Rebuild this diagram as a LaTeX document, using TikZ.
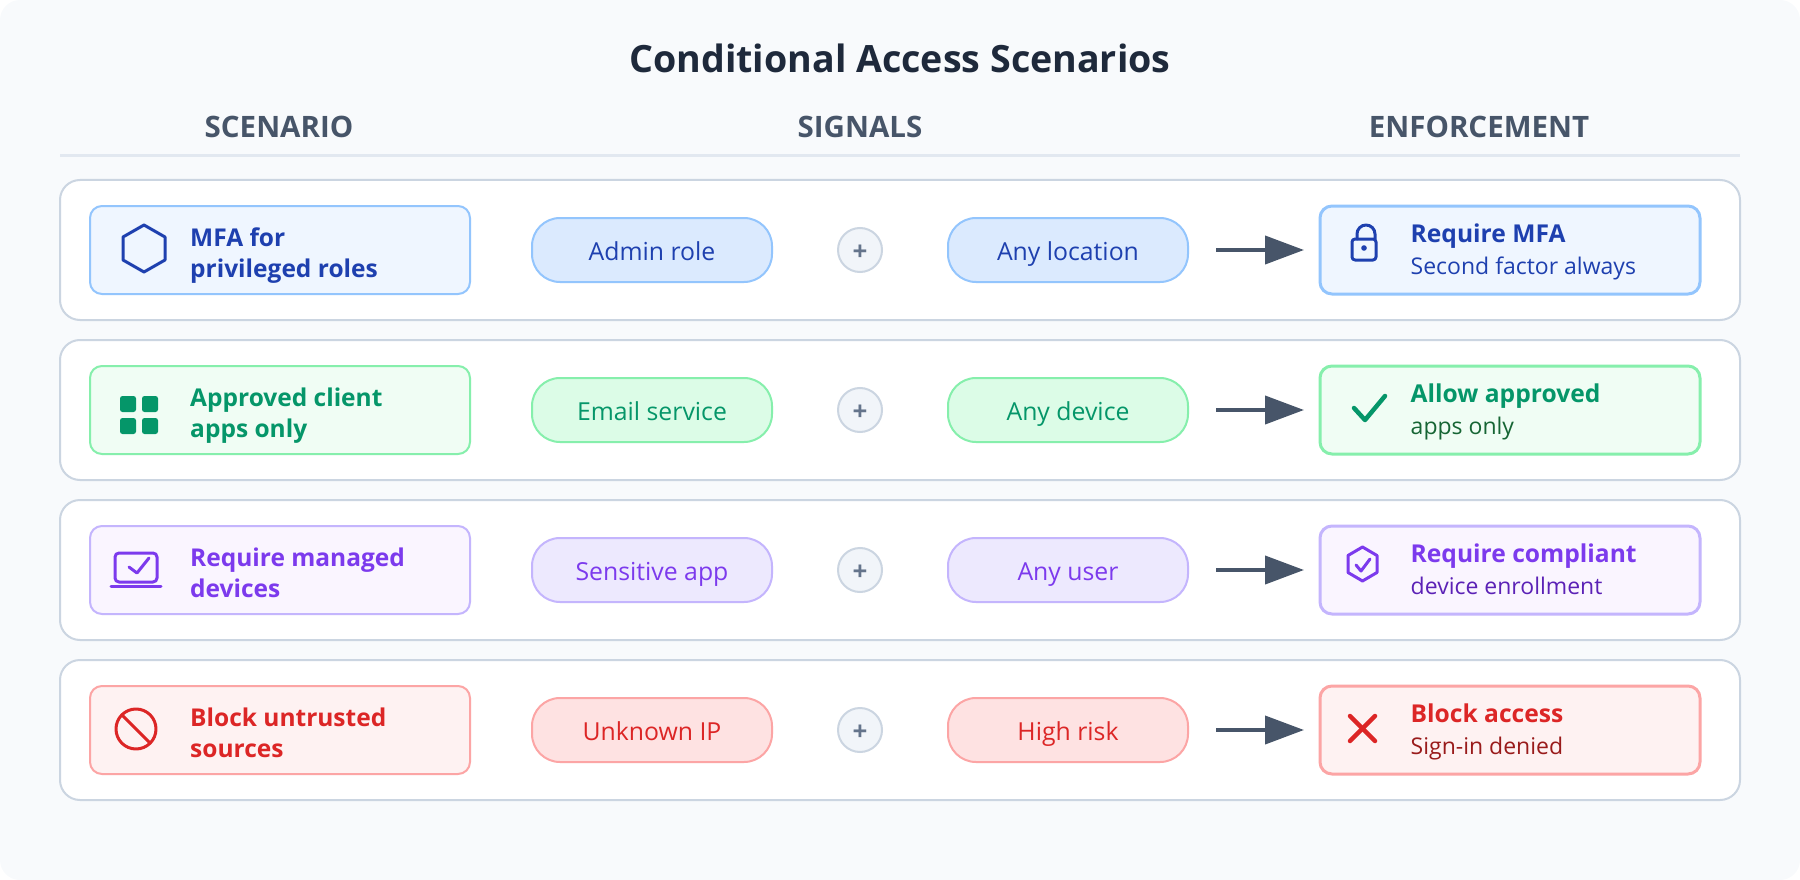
\documentclass[tikz,border=0pt]{standalone}
\usepackage{fontspec}
\setmainfont{Open Sans}
\usetikzlibrary{positioning, calc, arrows.meta}
\definecolor{caPage}{HTML}{F8FAFC}
\definecolor{caRule}{HTML}{E2E8F0}
\definecolor{caEdge}{HTML}{CBD5E1}
\definecolor{caTitle}{HTML}{1E293B}
\definecolor{caHead}{HTML}{475569}
\definecolor{caPlusFill}{HTML}{F1F5F9}
\definecolor{caPlusText}{HTML}{64748B}
\definecolor{blueText}{HTML}{1E40AF}
\definecolor{blueEdge}{HTML}{93C5FD}
\definecolor{blueBox}{HTML}{EFF6FF}
\definecolor{bluePill}{HTML}{DBEAFE}
\definecolor{greenText}{HTML}{059669}
\definecolor{greenDark}{HTML}{166534}
\definecolor{greenEdge}{HTML}{86EFAC}
\definecolor{greenBox}{HTML}{F0FDF4}
\definecolor{greenPill}{HTML}{DCFCE7}
\definecolor{purpleText}{HTML}{7C3AED}
\definecolor{purpleDark}{HTML}{5B21B6}
\definecolor{purpleEdge}{HTML}{C4B5FD}
\definecolor{purpleBox}{HTML}{FAF5FF}
\definecolor{purplePill}{HTML}{EDE9FE}
\definecolor{redText}{HTML}{DC2626}
\definecolor{redDark}{HTML}{991B1B}
\definecolor{redEdge}{HTML}{FCA5A5}
\definecolor{redBox}{HTML}{FEF2F2}
\definecolor{redPill}{HTML}{FEE2E2}
\newcommand{\enfhead}[2]{{\fontsize{24.6}{31}\selectfont\bfseries\color{#1}#2}}
\newcommand{\linestrut}{\rule[-7pt]{0pt}{24pt}}

\begin{document}
\begin{tikzpicture}[
    x=1pt, y=-1pt,
    rowcard/.style={
        rectangle,
        rounded corners=20pt,
        minimum width=1680pt,
        minimum height=140pt,
        outer sep=0pt,
        draw=caEdge,
        fill=white,
        line width=2pt
    },
    scenbox/.style={
        rectangle,
        rounded corners=12pt,
        minimum width=380pt,
        minimum height=88pt,
        outer sep=0pt,
        line width=2pt
    },
    scentext/.style={
        align=left,
        inner sep=0pt,
        yshift=-6.5pt,
        font=\fontsize{24.5}{31}\selectfont\bfseries
    },
    signal/.style={
        rectangle,
        rounded corners=28pt,
        minimum width=240pt,
        minimum height=64pt,
        outer sep=0pt,
        text height=25pt,
        text depth=5pt,
        inner ysep=0pt,
        font=\fontsize{24.8}{30}\selectfont,
        line width=2pt
    },
    plusnode/.style={
        circle,
        minimum size=44pt,
        inner sep=0pt,
        outer sep=0pt,
        text height=21pt,
        text depth=0pt,
        draw=caEdge,
        fill=caPlusFill,
        text=caPlusText,
        font=\fontsize{26}{30}\selectfont\bfseries,
        line width=2pt
    },
    enfbox/.style={
        rectangle,
        rounded corners=12pt,
        minimum width=380pt,
        minimum height=88pt,
        outer sep=0pt,
        line width=3pt
    },
    enftext/.style={
        align=left,
        inner sep=0pt,
        yshift=-2.5pt,
        font=\fontsize{23}{32}\selectfont
    },
    headtext/.style={
        font=\fontsize{29.5}{34}\selectfont\bfseries,
        text=caHead
    },
    flow/.style={
        draw=caHead,
        line width=4pt,
        -{Triangle[length=39pt,width=28pt]}
    },
    icon/.style={
        line width=3pt,
        line join=round,
        line cap=round
    }
]
\useasboundingbox (0,0) rectangle (1800,880);

% Page and heading
\fill[caPage, rounded corners=20pt] (0,0) rectangle (1800,880);
\node[font=\fontsize{37.6}{44}\selectfont\bfseries, text=caTitle] (title) at (900,58) {Conditional Access Scenarios};
\node[headtext] (hscenario) at (279,127) {SCENARIO};
\node[headtext] (hsignals) at (860,127) {SIGNALS};
\node[headtext] (henforce) at (1479,127) {ENFORCEMENT};
\coordinate (ruleL) at (60,156);
\coordinate (ruleR) at (1740,156);
\draw[caRule, line width=3pt] (ruleL) -- (ruleR);

% Row 1 - MFA
\node[rowcard] (row1) at (900,250) {};
\node[scenbox, draw=blueEdge, fill=blueBox, right=30pt of row1.west] (s1) {};
\node[scentext, text=blueText, right=100pt of s1.west] (s1t) {\linestrut MFA for\\privileged roles\linestrut};
\node[signal, draw=blueEdge, fill=bluePill, text=blueText, right=62pt of s1] (a1) {Admin role};
\node[plusnode, right=66pt of a1] (p1) {+};
\node[signal, draw=blueEdge, fill=bluePill, text=blueText, right=66pt of p1] (b1) {Any location};
\node[enfbox, draw=blueEdge, fill=blueBox, right=132pt of b1] (e1) {};
\node[enftext, text=blueText, right=90.5pt of e1.west] (e1t) {\linestrut\enfhead{blueText}{Require MFA}\\Second factor always\linestrut};
\draw[flow] ([xshift=28pt]b1.east) -- ([xshift=-16pt]e1.west);
\draw[icon, blueText] (144,225) -- (165,237) -- (165,260) -- (144,272) -- (123,260) -- (123,237) -- cycle;
\draw[icon, blueText, rounded corners=3pt] (1352,239) rectangle (1376,260);
\draw[icon, blueText] (1357,239) -- (1357,234) arc[start angle=180, end angle=360, radius=9] -- (1375,239);
\fill[blueText] (1364,248) circle[radius=2.8];

% Row 2 - approved apps
\node[rowcard] (row2) at (900,410) {};
\node[scenbox, draw=greenEdge, fill=greenBox, right=30pt of row2.west] (s2) {};
\node[scentext, text=greenText, right=100pt of s2.west] (s2t) {\linestrut Approved client\\apps only\linestrut};
\node[signal, draw=greenEdge, fill=greenPill, text=greenText, right=62pt of s2] (a2) {Email service};
\node[plusnode, right=66pt of a2] (p2) {+};
\node[signal, draw=greenEdge, fill=greenPill, text=greenText, right=66pt of p2] (b2) {Any device};
\node[enfbox, draw=greenEdge, fill=greenBox, right=132pt of b2] (e2) {};
\node[enftext, text=greenDark, right=90.5pt of e2.west] (e2t) {\linestrut\enfhead{greenText}{Allow approved}\\apps only\linestrut};
\draw[flow] ([xshift=28pt]b2.east) -- ([xshift=-16pt]e2.west);
\fill[greenText, rounded corners=2.5pt] (120,396) rectangle (136,412);
\fill[greenText, rounded corners=2.5pt] (142,396) rectangle (158,412);
\fill[greenText, rounded corners=2.5pt] (120,418) rectangle (136,434);
\fill[greenText, rounded corners=2.5pt] (142,418) rectangle (158,434);
\draw[icon, greenText, line width=4.5pt] (1354,408) -- (1365,420) -- (1385,396);

% Row 3 - managed devices
\node[rowcard] (row3) at (900,570) {};
\node[scenbox, draw=purpleEdge, fill=purpleBox, right=30pt of row3.west] (s3) {};
\node[scentext, text=purpleText, right=100pt of s3.west] (s3t) {\linestrut Require managed\\devices\linestrut};
\node[signal, draw=purpleEdge, fill=purplePill, text=purpleText, right=62pt of s3] (a3) {Sensitive app};
\node[plusnode, right=66pt of a3] (p3) {+};
\node[signal, draw=purpleEdge, fill=purplePill, text=purpleText, right=66pt of p3] (b3) {Any user};
\node[enfbox, draw=purpleEdge, fill=purpleBox, right=132pt of b3] (e3) {};
\node[enftext, text=purpleDark, right=90.5pt of e3.west] (e3t) {\linestrut\enfhead{purpleText}{Require compliant}\\device enrollment\linestrut};
\draw[flow] ([xshift=28pt]b3.east) -- ([xshift=-16pt]e3.west);
\draw[icon, purpleText, rounded corners=4pt] (115,553) rectangle (157,582);
\draw[icon, purpleText] (111,586) -- (161,586);
\draw[icon, purpleText] (129,567) -- (137,573) -- (149,558);
\draw[icon, purpleText] (1362.5,547) -- (1377,555.5) -- (1377,572.5) -- (1362.5,581) -- (1348,572.5) -- (1348,555.5) -- cycle;
\draw[icon, purpleText] (1356,565) -- (1361,571) -- (1370,559);

% Row 4 - blocked sources
\node[rowcard] (row4) at (900,730) {};
\node[scenbox, draw=redEdge, fill=redBox, right=30pt of row4.west] (s4) {};
\node[scentext, text=redText, right=100pt of s4.west] (s4t) {\linestrut Block untrusted\\sources\linestrut};
\node[signal, draw=redEdge, fill=redPill, text=redText, right=62pt of s4] (a4) {Unknown IP};
\node[plusnode, right=66pt of a4] (p4) {+};
\node[signal, draw=redEdge, fill=redPill, text=redText, right=66pt of p4] (b4) {High risk};
\node[enfbox, draw=redEdge, fill=redBox, right=132pt of b4] (e4) {};
\node[enftext, text=redDark, right=90.5pt of e4.west] (e4t) {\linestrut\enfhead{redText}{Block access}\\Sign-in denied\linestrut};
\draw[flow] ([xshift=28pt]b4.east) -- ([xshift=-16pt]e4.west);
\draw[icon, redText] (136,729) circle[radius=20];
\draw[icon, redText] (122,715) -- (150,743);
\draw[icon, redText, line width=4.5pt] (1350,716) -- (1375,741);
\draw[icon, redText, line width=4.5pt] (1375,716) -- (1350,741);

\end{tikzpicture}
\end{document}
